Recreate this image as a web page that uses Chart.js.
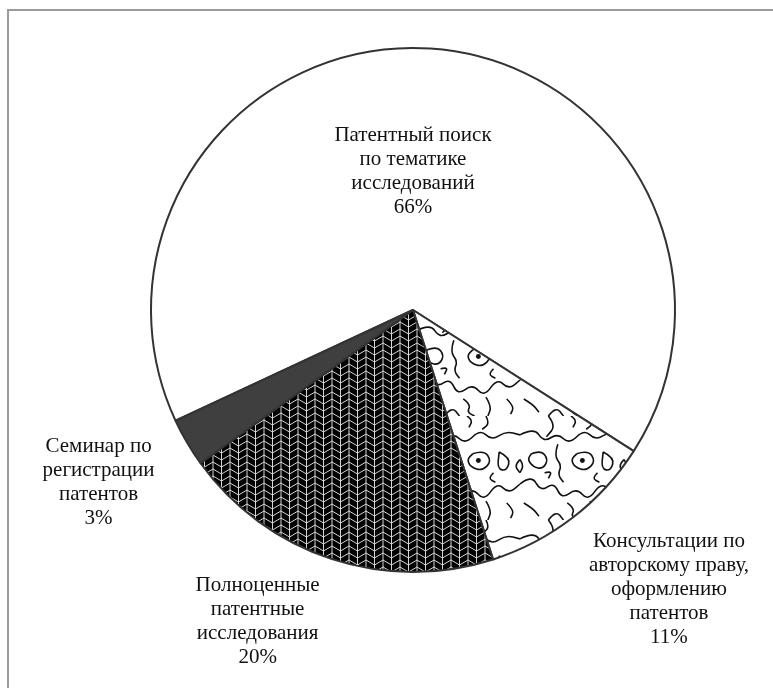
<!DOCTYPE html>
<html>
<head>
<meta charset="utf-8">
<script src="https://cdn.jsdelivr.net/npm/chart.js@4.4.1/dist/chart.umd.min.js"></script>
<style>
  html, body { margin: 0; padding: 0; background: #fff; }
  #wrap { position: relative; width: 773px; height: 688px; overflow: hidden; }
  #frame {
    position: absolute; left: 7px; top: 9px; width: 900px; height: 800px;
    border-left: 2px solid #9a9a9a; border-top: 2px solid #9a9a9a;
  }
  #chart { position: absolute; left: 0; top: 0; }
</style>
</head>
<body>
<div id="wrap">
  <div id="frame"></div>
  <canvas id="chart" width="773" height="688"></canvas>
</div>
<script>
// Data (clockwise from the dark slice boundary)
const categories = [
    ['Патентный поиск', 'по тематике', 'исследований'],
    ['Консультации по', 'авторскому праву,', 'оформлению', 'патентов'],
    ['Полноценные', 'патентные', 'исследования'],
    ['Семинар по', 'регистрации', 'патентов']
];
const shares = [66, 11, 20, 3];

// label block centres, relative to pie centre in units of radius
const labelSpots = [
    { dx: 0, dy: -0.53 },
    { dx: 0.977, dy: 1.067 },
    { dx: -0.593, dy: 1.188 },
    { dx: -1.20, dy: 0.66 }
];

// herringbone fill
function herringbone() {
    const c = document.createElement('canvas');
    c.width = 17; c.height = 7;
    const g = c.getContext('2d');
    g.fillStyle = '#000';
    g.fillRect(0, 0, 17, 7);
    g.strokeStyle = '#e0e0e0';
    g.lineWidth = 0.95;
    g.beginPath();
    g.moveTo(0.5, 0); g.lineTo(0.5, 7);
    g.moveTo(9, 0); g.lineTo(9, 7);
    for (let k = -1; k <= 1; k++) {
        const o = k * 7;
        g.moveTo(0.5, 5 + o); g.lineTo(9, 0 + o);
        g.moveTo(9, 0 + o); g.lineTo(17.5, 5 + o);
    }
    g.stroke();
    return g.createPattern(c, 'repeat');
}

// wavy line texture
function squiggles() {
    const size = 104, s = size / 110;
    const c = document.createElement('canvas');
    c.width = size; c.height = size;
    const g = c.getContext('2d');
    g.fillStyle = '#fff';
    g.fillRect(0, 0, size, size);
    g.scale(s, s);
    g.strokeStyle = '#111';
    g.lineWidth = 1.6 / s;
    g.lineJoin = 'round';
    const paths = [
        [[0, 20], [15, 12], [25, 28], [40, 18], [52, 30], [68, 14], [80, 26], [95, 16], [110, 20]],
        [[0, 72], [12, 62], [22, 80], [36, 70], [44, 88], [60, 76], [72, 90], [86, 70], [98, 82], [110, 72]],
        [[30, 0], [38, 10], [28, 22]],
        [[30, 110], [38, 100], [46, 110]],
        [[60, 40], [72, 36], [80, 48], [70, 58], [58, 54], [54, 46], [60, 40]],
        [[12, 40], [22, 36], [30, 46], [24, 56], [14, 54], [8, 46], [12, 40]],
        [[88, 38], [100, 44], [96, 58], [86, 56], [88, 38]],
        [[40, 30], [36, 42], [44, 52], [40, 62], [46, 70]],
        [[74, 90], [80, 100], [76, 110]],
        [[74, 0], [78, 8], [70, 14]],
        [[4, 92], [14, 98], [20, 106]],
        [[96, 92], [104, 100], [100, 108]],
        [[50, 92], [58, 98], [54, 106], [62, 110]],
        [[54, 0], [60, 4], [56, 12]],
        [[0, 46], [4, 52], [0, 60]],
        [[110, 46], [104, 52], [110, 60]],
        [[82, 60], [76, 66], [84, 70]],
        [[26, 60], [34, 58], [30, 66]]
    ];
    paths.forEach(p => {
        g.beginPath();
        g.moveTo(p[0][0], p[0][1]);
        for (let i = 1; i < p.length - 1; i++) {
            const mx = (p[i][0] + p[i + 1][0]) / 2;
            const my = (p[i][1] + p[i + 1][1]) / 2;
            g.quadraticCurveTo(p[i][0], p[i][1], mx, my);
        }
        const last = p[p.length - 1];
        g.lineTo(last[0], last[1]);
        g.stroke();
    });
    g.beginPath();
    g.arc(66, 47, 2.6, 0, Math.PI * 2);
    g.fillStyle = '#111';
    g.fill();
    return g.createPattern(c, 'repeat');
}

const sliceLabels = {
    id: 'sliceLabels',
    afterDatasetsDraw(chart) {
        const ctx = chart.ctx;
        const arcs = chart.getDatasetMeta(0).data;
        ctx.save();
        ctx.font = '21px "Liberation Serif", "Times New Roman", serif';
        ctx.fillStyle = '#111';
        ctx.textAlign = 'center';
        ctx.textBaseline = 'middle';
        const lh = 24;
        arcs.forEach((arc, i) => {
            const r = arc.outerRadius;
            const lines = categories[i].concat(shares[i] + '%');
            const cx = arc.x + labelSpots[i].dx * r;
            const cy = arc.y + labelSpots[i].dy * r;
            const top = cy - (lines.length - 1) * lh / 2;
            lines.forEach((t, j) => ctx.fillText(t, cx, top + j * lh));
        });
        ctx.restore();
    }
};

const ctx = document.getElementById('chart').getContext('2d');
new Chart(ctx, {
    type: 'pie',
    data: {
        labels: categories.map(c => c.join(' ')),
        datasets: [{
            data: shares,
            backgroundColor: ['#ffffff', squiggles(), herringbone(), '#3f3f3f'],
            borderColor: '#333333',
            borderWidth: 2,
            hoverOffset: 0
        }]
    },
    options: {
        responsive: false,
        animation: false,
        events: [],
        rotation: -115,
        layout: { padding: { left: 150, right: 97, top: 47, bottom: 115 } },
        plugins: {
            legend: { display: false },
            tooltip: { enabled: false }
        }
    },
    plugins: [sliceLabels]
});
</script>
</body>
</html>
